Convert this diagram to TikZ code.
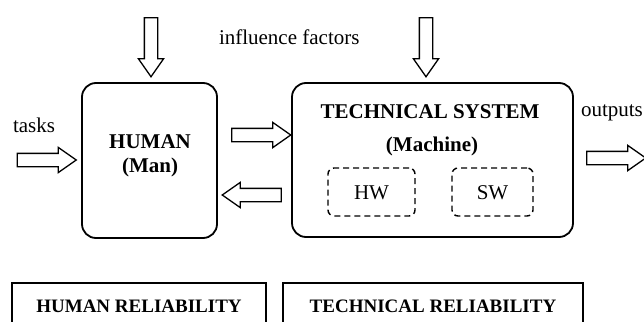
\documentclass[tikz,border=0pt]{standalone}
\usepackage{fontspec}
\setmainfont{Liberation Serif}
\usetikzlibrary{shapes.arrows}
\begin{document}
\begin{tikzpicture}[x=1pt,y=-1pt,
  every node/.style={font=\fontsize{21}{24}\selectfont, inner sep=0pt, outer sep=0pt},
  mainbox/.style={draw, line width=1.8pt, rounded corners=14pt},
  dashbox/.style={draw, line width=1.4pt, dash pattern=on 6pt off 4pt, rounded corners=6pt},
  relbox/.style={draw, line width=1.6pt},
  blockarrow/.style={single arrow, draw, line width=1.3pt, minimum height=59pt,
     inner xsep=0pt, inner ysep=6pt, single arrow head extend=6pt, single arrow tip angle=70},
  bold/.style={font=\fontsize{21}{24}\selectfont\bfseries},
  relfont/.style={font=\fontsize{19}{22}\selectfont\bfseries}
]
\useasboundingbox (0,0) rectangle (644,321);
\clip (0,0) rectangle (644,321);

% main boxes
\node[mainbox, minimum width=135pt, minimum height=155pt] (human) at (149.5,160.5) {};
\node[mainbox, minimum width=281pt, minimum height=154pt] (tech) at (432.5,160) {};
\node[dashbox, minimum width=87pt, minimum height=48pt] (hw) at (371.5,192) {};
\node[dashbox, minimum width=81pt, minimum height=48pt] (sw) at (492.5,192) {};

% texts in boxes
\node[bold, anchor=base] (humant) at (150,148) {HUMAN};
\node[bold, anchor=base] (mant) at (150,172) {(Man)};
\node[bold, anchor=base] (techt) at (430,118) {TECHNICAL SYSTEM};
\node[bold, anchor=base] (macht) at (432,151) {(Machine)};
\node[anchor=base] (hwt) at (hw.center) [yshift=-7.5pt] {HW};
\node[anchor=base] (swt) at (sw.center) [yshift=-7.5pt] {SW};

% free labels
\node[anchor=base west] (tasks) at (13,132) {tasks};
\node[anchor=base west] (infl) at (219,45) {influence factors};
\node[anchor=base west] (outp) at (581,116) {outputs};

% block arrows
\node[blockarrow] (a1) at (42,160) {};
\node[blockarrow] (a2) at (256.5,135) {};
\node[blockarrow, rotate=180] (a3) at (256.5,195) {};
\node[blockarrow] (a4) at (611.5,158) {};
\node[blockarrow, rotate=-90] (a5) at (151,42.5) {};
\node[blockarrow, rotate=-90] (a6) at (426,42.5) {};

% reliability boxes
\node[relbox, minimum width=254pt, minimum height=64pt] (hrel) at (139,315) {};
\node[relbox, minimum width=300pt, minimum height=64pt] (trel) at (433,315) {};
\node[relfont, anchor=base] (hrelt) at (139,312) {HUMAN RELIABILITY};
\node[relfont, anchor=base] (trelt) at (433,312) {TECHNICAL RELIABILITY};
\end{tikzpicture}
\end{document}
